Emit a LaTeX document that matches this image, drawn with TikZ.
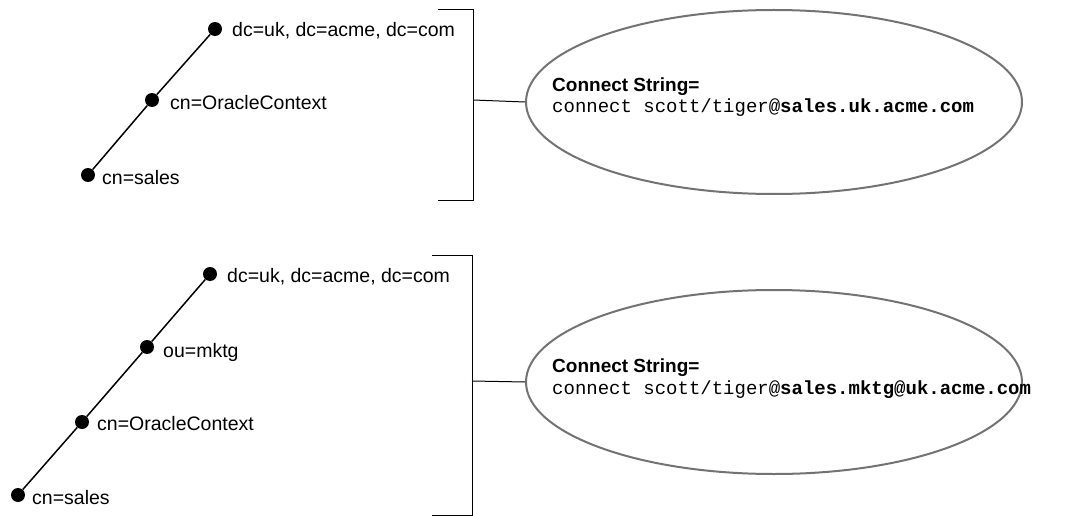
\documentclass[tikz,border=0pt]{standalone}
\usepackage{fontspec}
\setmainfont{Liberation Sans}
\setmonofont{Liberation Mono}
\usetikzlibrary{shapes.geometric}
\begin{document}
\begin{tikzpicture}[x=1pt,y=-1pt,
  dot/.style={circle,fill=black,inner sep=0pt,minimum size=14pt},
  lbl/.style={anchor=base west,inner sep=0pt,font=\fontsize{19.5}{23}\selectfont},
  hdr/.style={anchor=base west,inner sep=0pt,font=\fontsize{19}{23}\selectfont\bfseries},
  mono/.style={anchor=base west,inner sep=0pt,font=\fontsize{19}{23}\selectfont\ttfamily},
  tree/.style={line width=1.5pt},
  brk/.style={line width=1pt},
  ell/.style={ellipse,draw=black!55,line width=2pt,minimum width=496pt,minimum height=184pt,inner sep=0pt}]
\useasboundingbox (0,0) rectangle (1074,516);
% ---------- top tree ----------
\node[dot] (t1) at (215,29) {};
\node[dot] (t2) at (152,100) {};
\node[dot] (t3) at (88,175) {};
\draw[tree] (t3) -- (t2) -- (t1);
\node[lbl] (t1l) at (232,37) {dc=uk, dc=acme, dc=com};
\node[lbl] (t2l) at (170,110) {cn=OracleContext};
\node[lbl] (t3l) at (102,185) {cn=sales};
% top bracket
\coordinate (ta) at (438,10);
\coordinate (tb) at (473,10);
\coordinate (tc) at (473,200);
\coordinate (td) at (438,200);
\coordinate (tm) at (473,100);
\draw[brk] (ta) -- (tb) -- (tc) -- (td);
\node[ell] (e1) at (774,102) {};
\draw[brk] (tm) -- (e1.west);
\node[hdr] (h1) at (552,92) {Connect String=};
\node[mono] (m1) at (552,113) {connect scott/tiger@\textbf{sales.uk.acme.com}};
% ---------- bottom tree ----------
\node[dot] (b1) at (210,274) {};
\node[dot] (b2) at (147,347) {};
\node[dot] (b3) at (82,422) {};
\node[dot] (b4) at (18,495) {};
\draw[tree] (b4) -- (b3) -- (b2) -- (b1);
\node[lbl] (b1l) at (227,282) {dc=uk, dc=acme, dc=com};
\node[lbl] (b2l) at (163,357) {ou=mktg};
\node[lbl] (b3l) at (97,430) {cn=OracleContext};
\node[lbl] (b4l) at (32,504) {cn=sales};
% bottom bracket
\coordinate (ba) at (432,255);
\coordinate (bb) at (472,255);
\coordinate (bc) at (472,515);
\coordinate (bd) at (432,515);
\coordinate (bm) at (472,381);
\draw[brk] (ba) -- (bb) -- (bc) -- (bd);
\node[ell] (e2) at (774,382) {};
\draw[brk] (bm) -- (e2.west);
\node[hdr] (h2) at (552,372) {Connect String=};
\node[mono] (m2) at (552,394) {connect scott/tiger@\textbf{sales.mktg@uk.acme.com}};
\end{tikzpicture}
\end{document}
